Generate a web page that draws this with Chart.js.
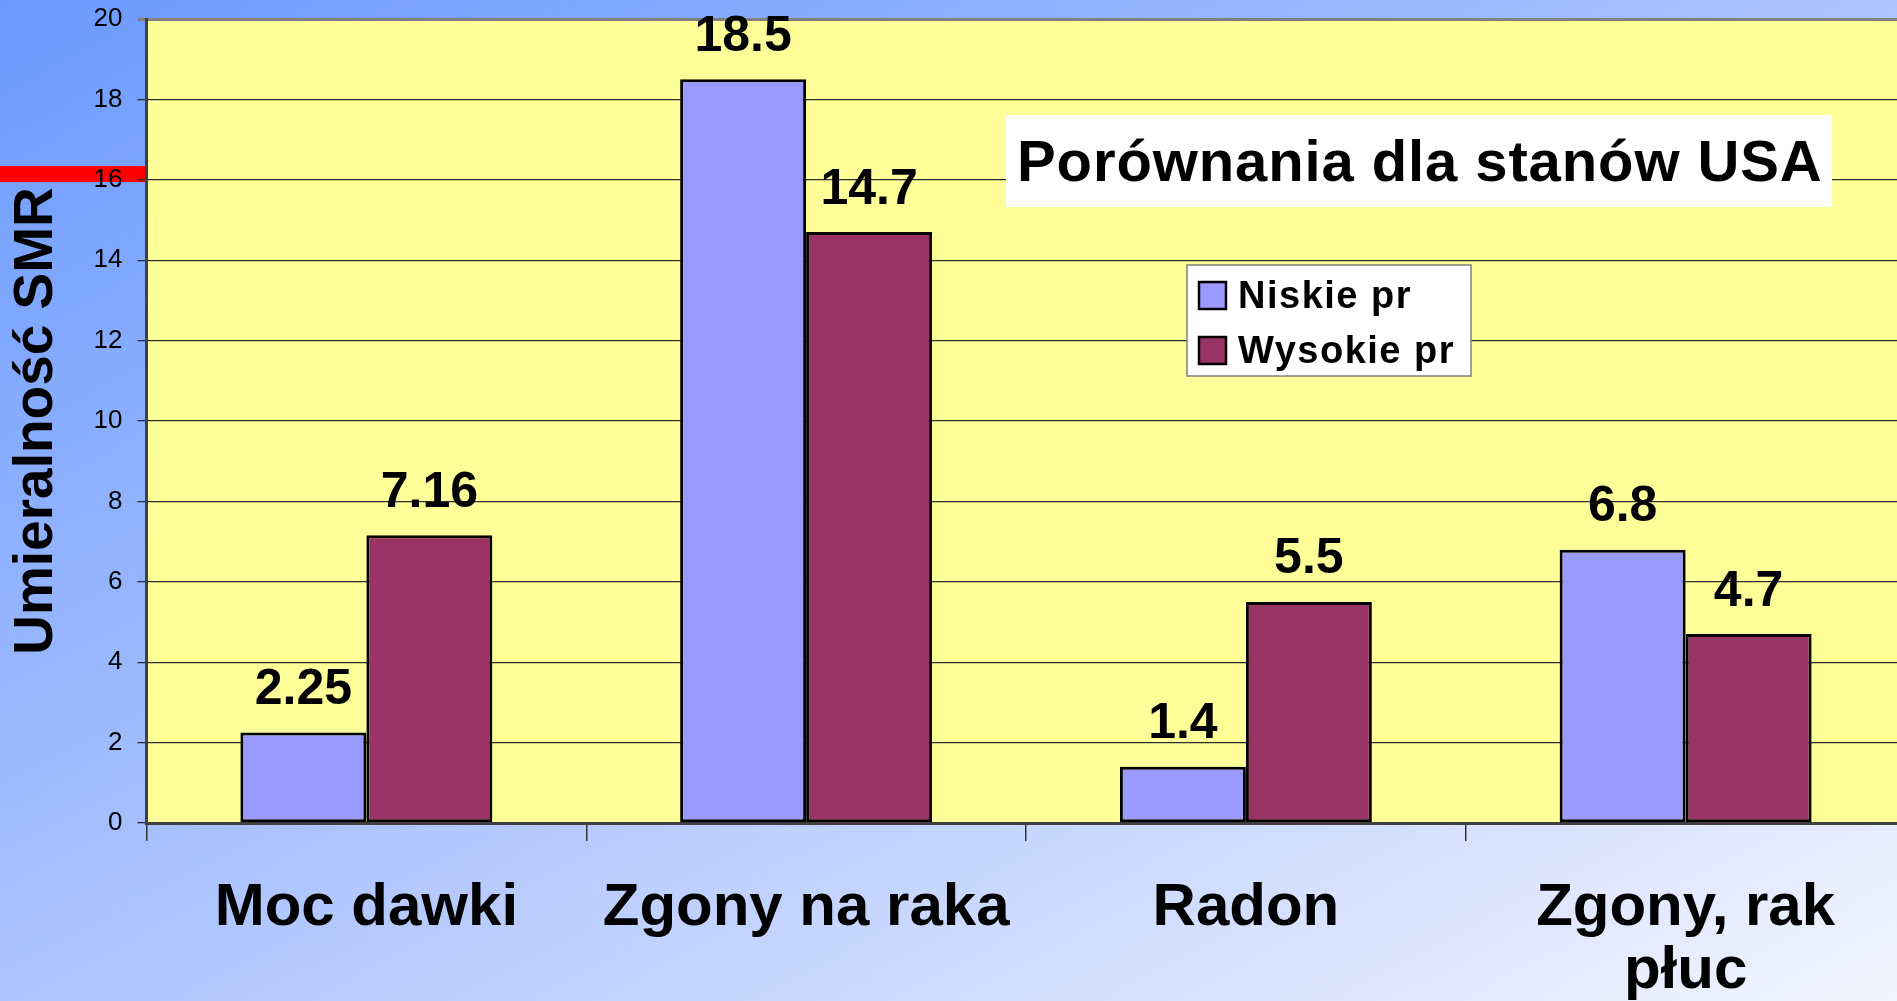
<!DOCTYPE html>
<html>
<head>
<meta charset="utf-8">
<title>Porównania dla stanów USA</title>
<script src="https://cdn.jsdelivr.net/npm/chart.js@4.4.1/dist/chart.umd.min.js"></script>
<style>
  html, body { margin: 0; padding: 0; width: 1897px; height: 1001px; overflow: hidden; }
  body { background: linear-gradient(to bottom right, #6a9aff 0%, #a6bfff 45%, #f3f5ff 100%); }
  #box { position: absolute; left: 0; top: 0; width: 1910px; height: 1001px; }
</style>
</head>
<body>
<div id="box"><canvas id="myChart" width="1910" height="1001"></canvas></div>
<script>
// dane z wykresu
var categories = [['Moc dawki'], ['Zgony na raka'], ['Radon'], ['Zgony, rak', 'płuc']];
var niskie = [2.25, 18.5, 1.4, 6.8];     // Niskie pr
var wysokie = [7.16, 14.7, 5.5, 4.7];    // Wysokie pr
var serie = ['Niskie pr', 'Wysokie pr'];
var kolory = ['#9999FF', '#993366'];
var tytul = 'Porównania dla stanów USA';
var osY = 'Umieralność SMR';
var yMin = 0, yMax = 20, yStep = 2;

var FONT = '"Liberation Sans", Arial, sans-serif';

// tło obszaru wykresu, tytuł, legenda i etykiety wartości
var dodatki = {
  id: 'dodatki',
  beforeDraw: function(chart) {
    var ctx = chart.ctx, a = chart.chartArea;
    ctx.save();
    ctx.fillStyle = '#FFFF99';
    ctx.fillRect(a.left, a.top, a.right - a.left, a.bottom - a.top);
    ctx.fillStyle = '#FF0000';          // czerwony pasek z lewej
    ctx.fillRect(0, 166, 145, 16);
    ctx.restore();
  },
  afterDatasetsDraw: function(chart) {
    var ctx = chart.ctx;
    ctx.save();
    // etykiety wartości nad słupkami
    ctx.fillStyle = '#000';
    ctx.font = 'bold 50px ' + FONT;
    ctx.textAlign = 'center';
    ctx.textBaseline = 'alphabetic';
    chart.data.datasets.forEach(function(ds, d) {
      chart.getDatasetMeta(d).data.forEach(function(bar, i) {
        ctx.fillText(String(ds.data[i]), bar.x, bar.y - 28.5);
      });
    });

    // ramka z tytułem
    ctx.fillStyle = '#FFFFFF';
    ctx.fillRect(1006, 115, 826, 92);
    ctx.fillStyle = '#000';
    ctx.textAlign = 'left';
    ctx.font = 'bold 58px ' + FONT;
    ctx.letterSpacing = '0.9px';
    ctx.fillText(tytul, 1017, 181);

    // legenda
    ctx.fillStyle = '#FFFFFF';
    ctx.fillRect(1187, 265, 284, 111);
    ctx.strokeStyle = '#808080';
    ctx.lineWidth = 1.5;
    ctx.strokeRect(1187, 265, 284, 111);
    ctx.font = 'bold 38px ' + FONT;
    ctx.letterSpacing = '1.5px';
    chart.data.datasets.forEach(function(ds, d) {
      var y = 282 + d * 55;
      ctx.fillStyle = ds.backgroundColor;
      ctx.fillRect(1199, y, 27, 27);
      ctx.strokeStyle = '#000';
      ctx.lineWidth = 2.5;
      ctx.strokeRect(1199, y, 27, 27);
      ctx.fillStyle = '#000';
      ctx.fillText(ds.label, 1238, y + 26);
    });
    ctx.restore();
  }
};

var chart = new Chart(document.getElementById('myChart').getContext('2d'), {
  type: 'bar',
  data: {
    labels: categories,
    datasets: [
      { label: serie[0], data: niskie, backgroundColor: kolory[0] },
      { label: serie[1], data: wysokie, backgroundColor: kolory[1] }
    ]
  },
  options: {
    responsive: false,
    animation: false,
    layout: { padding: { top: 19, right: 4.5, left: 0, bottom: 0 } },
    datasets: {
      bar: {
        borderColor: '#000',
        borderWidth: 3,
        borderSkipped: false,
        categoryPercentage: 0.573,
        barPercentage: 1
      }
    },
    plugins: {
      legend: { display: false },
      tooltip: { enabled: false }
    },
    scales: {
      x: {
        ticks: {
          color: '#000',
          font: { family: FONT, size: 60, weight: 'bold', lineHeight: 1.05 },
          padding: 36,
          autoSkip: false,
          maxRotation: 0
        },
        grid: { drawOnChartArea: false, tickLength: 18, color: '#333', lineWidth: 1.5, offset: true },
        border: { color: '#404040', width: 3 },
        afterFit: function(s) { s.height = 178; s.paddingLeft = 0; s.paddingRight = 0; }
      },
      y: {
        min: yMin,
        max: yMax,
        ticks: { stepSize: yStep, color: '#000', font: { family: FONT, size: 26 }, padding: 15 },
        grid: {
          tickLength: 9,
          color: function(c) { return c.tick && c.tick.value === yMax ? '#808080' : '#2e2e2e'; },
          lineWidth: function(c) { return c.tick && c.tick.value === yMax ? 3 : 1.3; }
        },
        border: { color: '#404040', width: 3 },
        title: {
          display: true,
          text: osY,
          color: '#000',
          font: { family: FONT, size: 55, weight: 'bold' },
          padding: { top: 4, bottom: 0 }
        },
        afterFit: function(s) { s.width = 146.5; s.paddingTop = 0; s.paddingBottom = 0; }
      }
    }
  },
  plugins: [dodatki]
});
</script>
</body>
</html>
